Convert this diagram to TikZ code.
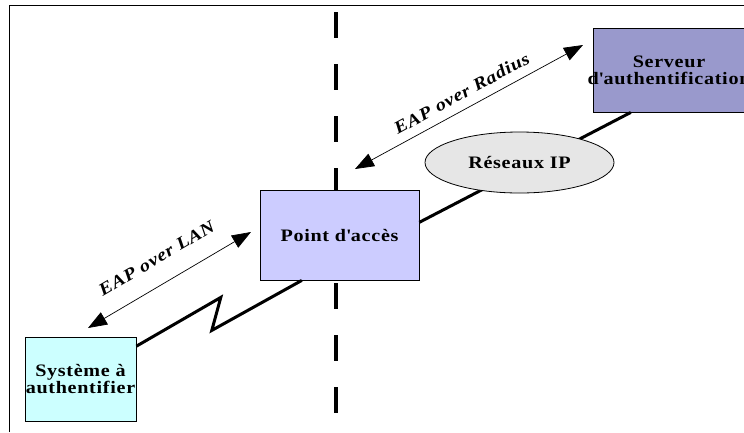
\documentclass[tikz,border=0pt]{standalone}
\usepackage{fontspec}
\setmainfont{Liberation Serif}[FakeStretch=1.15,LetterSpace=4]
\usetikzlibrary{arrows.meta,shapes.geometric,calc}

\definecolor{apfill}{HTML}{CCCCFF}
\definecolor{srvfill}{HTML}{9999CC}
\definecolor{sysfill}{HTML}{CCFFFF}
\definecolor{netfill}{HTML}{E6E6E6}

\begin{document}
\begin{tikzpicture}[x=1pt,y=-1pt,
  box/.style={draw=black, line width=0.8pt, inner sep=0pt, align=center,
    font=\fontsize{17.5}{17}\selectfont\bfseries},
  link/.style={line width=3pt},
  msg/.style={line width=0.7pt,
    {Triangle[length=19pt,width=14pt]}-{Triangle[length=19pt,width=14pt]}},
  msglabel/.style={font=\fontsize{17.5}{17}\selectfont\bfseries\itshape,
    inner sep=0pt, sloped},
  divider/.style={line width=4pt, dash pattern=on 26pt off 26pt},
  frame/.style={line width=0.8pt}
]
\useasboundingbox (0,0) rectangle (744,432);

% outer frame (left and top edges only)
\coordinate (frtl) at (9,5);
\coordinate (frbl) at (9,432);
\coordinate (frtr) at (744,5);
\draw[frame] (frbl) -- (frtl) -- (frtr);

% vertical divider between the two halves
\coordinate (divtop) at (336,12);
\coordinate (divlow) at (336,283);
\coordinate (divbot) at (336,415);
\draw[divider] (divtop) -- (336,200);
\draw[divider] (divlow) -- (divbot);

% the three parties
\node[box, fill=apfill, minimum width=159pt, minimum height=90pt]
  (pa) at (339.5,235) {Point d\textquotesingle accès};
\node[box, fill=srvfill, minimum width=152pt, minimum height=84pt]
  (srv) at (669,70)
  {\makebox[0pt]{Serveur}\\\makebox[0pt]{d\textquotesingle authentification}};
\node[box, fill=sysfill, minimum width=111pt, minimum height=84pt]
  (sys) at (80.5,379) {\makebox[0pt]{Système à}\\\makebox[0pt]{authentifier}};

% wired link through the IP network
\draw[link] ($(srv.south west)!0.25!(srv.south east)$)
  -- ($(pa.north east)!0.36!(pa.south east)$);
\node[draw=black, line width=0.8pt, fill=netfill, ellipse, inner sep=0pt,
  minimum width=189pt, minimum height=61pt,
  font=\fontsize{17.5}{17}\selectfont\bfseries]
  (net) at (519.5,162.5) {Réseaux IP};

% wireless link (zigzag)
\draw[link, line join=miter] ($(pa.south west)!0.264!(pa.south east)$)
  -- ++(-90,50) -- ++(9,-33)
  -- ($(sys.north east)!0.113!(sys.south east)$);

% EAP exchanges
\coordinate (lanA) at (88,328);
\coordinate (lanB) at (251,232);
\draw[msg] (lanA) -- (lanB)
  node[msglabel, midway, above=19pt] {EAP over LAN};

\coordinate (radA) at (355,169);
\coordinate (radB) at (583,45);
\draw[msg] (radA) -- (radB)
  node[msglabel, midway, above=9pt] {EAP over Radius};
\end{tikzpicture}
\end{document}
